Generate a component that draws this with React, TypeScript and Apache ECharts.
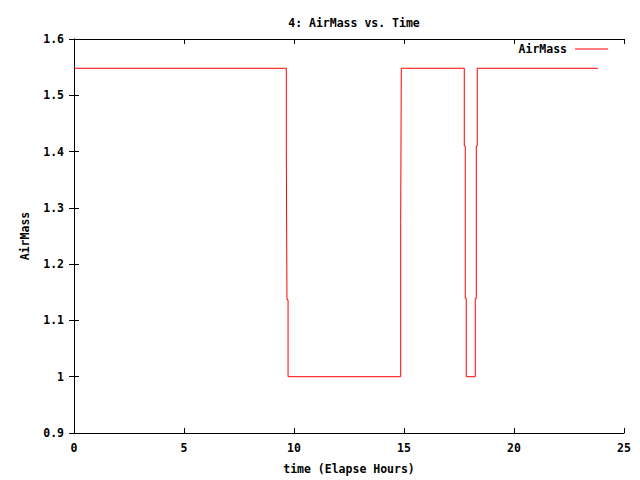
import React, { useEffect, useRef } from "react";
import * as echarts from "echarts";

const times = [0, 9.65, 9.68, 9.73, 14.85, 14.877, 17.74, 17.786, 17.83, 18.24, 18.286, 18.33, 23.82];
const airmass = [1.548, 1.41, 1.137, 1.0, 1.274, 1.548, 1.41, 1.139, 1.0, 1.139, 1.41, 1.548, 1.548];
const seriesName = "AirMass";
const titleText = "4: AirMass vs. Time";
const xName = "time (Elapse Hours)";
const yName = "AirMass";

const FONT = "DejaVu Sans Mono";

export default function App() {
  const ref = useRef<HTMLDivElement>(null);
  useEffect(() => {
    if (!ref.current) return;
    const chart = echarts.init(ref.current, undefined, { renderer: "svg" });
    const data = times.map((t, i) => [t, airmass[i]]);
    const txt = { fontFamily: FONT, fontSize: 11.5, color: "#000", fontWeight: "bold" as const };
    const axisLine = { show: true, lineStyle: { color: "#000", width: 1 } };
    const tick = { show: true, inside: true, length: 5, lineStyle: { color: "#000" } };
    chart.setOption({
      animation: false,
      backgroundColor: "#fff",
      title: {
        text: titleText,
        left: 349,
        textAlign: "center",
        top: 12,
        textStyle: { ...txt },
      },
      legend: {
        data: [{ name: seriesName, icon: "rect" }],
        right: 27,
        top: 38,
        align: "right",
        itemWidth: 33,
        itemHeight: 1,
        itemStyle: { color: "#ff0000" },
        textStyle: { ...txt, padding: [0, 3, 0, 0] },
      },
      grid: { left: 74, right: 16, top: 39, bottom: 42 },
      xAxis: [
        {
          type: "value",
          min: 0,
          max: 25,
          interval: 5,
          position: "bottom",
          axisLine,
          axisTick: tick,
          splitLine: { show: false },
          axisLabel: { ...txt, margin: 9 },
          name: xName,
          nameLocation: "middle",
          nameGap: 30,
          nameTextStyle: { ...txt },
        },
        {
          type: "value",
          min: 0,
          max: 25,
          interval: 5,
          position: "top",
          axisLine,
          axisTick: tick,
          splitLine: { show: false },
          axisLabel: { show: false },
        },
      ],
      yAxis: [
        {
          type: "value",
          min: 0.9,
          max: 1.6,
          interval: 0.1,
          position: "left",
          axisLine,
          axisTick: tick,
          splitLine: { show: false },
          axisLabel: { ...txt, margin: 10 },
          name: yName,
          nameLocation: "middle",
          nameGap: 43,
          nameRotate: 90,
          nameTextStyle: { ...txt },
        },
        {
          type: "value",
          min: 0.9,
          max: 1.6,
          interval: 0.1,
          position: "right",
          axisLine,
          axisTick: tick,
          splitLine: { show: false },
          axisLabel: { show: false },
        },
      ],
      series: [
        {
          name: seriesName,
          type: "line",
          step: "end",
          data,
          symbol: "none",
          xAxisIndex: 0,
          yAxisIndex: 0,
          lineStyle: { color: "#ff0000", width: 1 },
          itemStyle: { color: "#ff0000" },
        },
      ],
    });
    return () => chart.dispose();
  }, []);
  return <div ref={ref} style={{ width: 640, height: 480, position: "absolute", left: 0, top: 0 }} />;
}
